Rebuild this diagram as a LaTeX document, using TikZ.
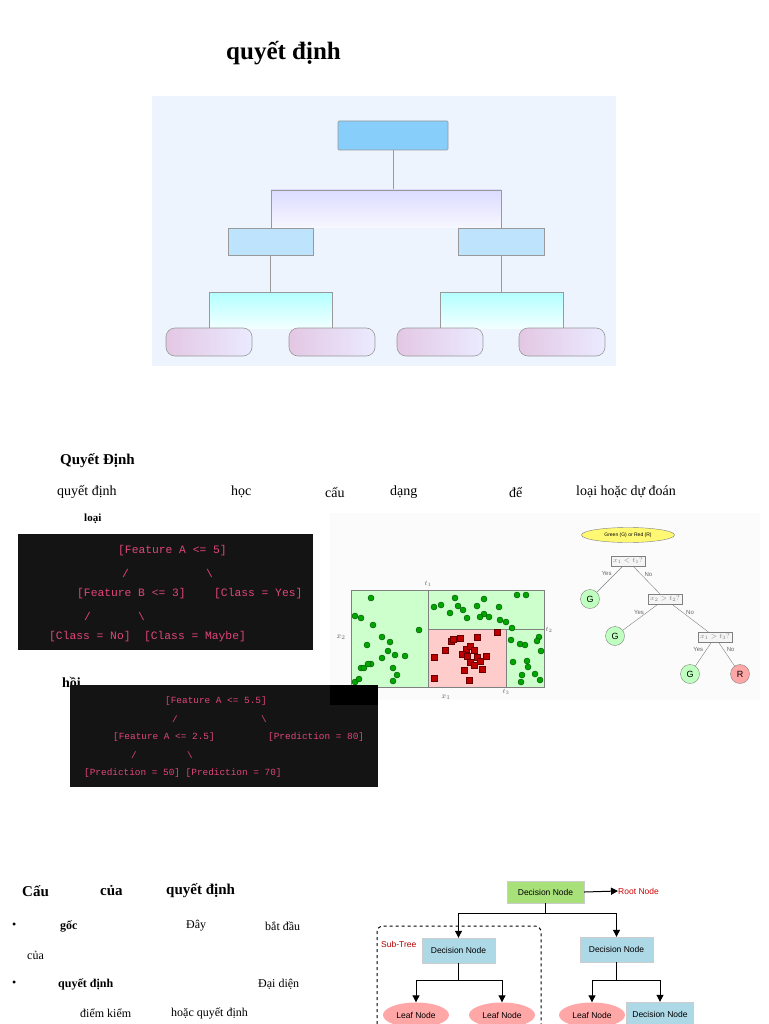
\documentclass[tikz,border=0pt]{standalone}
\usepackage{fontspec}
\setmainfont{Liberation Serif}
\newfontfamily\mono{Liberation Mono}
\newfontfamily\sans{Liberation Sans}
\usetikzlibrary{shapes.geometric,arrows.meta}
\definecolor{codepink}{HTML}{E0457B}
\definecolor{panel}{HTML}{EDF4FD}
\definecolor{lblue}{HTML}{ADD8E6}
\definecolor{rootg}{HTML}{A8E07A}
\definecolor{sky}{HTML}{87CEFA}
\begin{document}
\begin{tikzpicture}[x=1pt,y=-1pt,
 tx/.style={anchor=west,inner sep=0pt,font=\fontsize{14}{16}\selectfont},
 bx/.style={anchor=west,inner sep=0pt,font=\bfseries\fontsize{14}{16}\selectfont},
 code/.style={anchor=west,inner sep=0pt,text=codepink,font=\mono\fontsize{11.3}{12}\selectfont},
 code2/.style={anchor=west,inner sep=0pt,text=codepink,font=\mono\fontsize{9.4}{10}\selectfont},
 dot/.style={circle,fill=green!65!black,draw=green!30!black,inner sep=0pt,minimum size=6pt},
 sq/.style={rectangle,fill=red!75!black,draw=red!40!black,inner sep=0pt,minimum size=5.5pt},
 qbox/.style={draw=gray,fill=gray!8,font=\fontsize{7}{8}\selectfont,text=gray,inner sep=2pt},
 leafc/.style={circle,draw=gray,fill=green!25,minimum size=19pt,inner sep=0pt,font=\sans\fontsize{9}{10}\selectfont},
 yn/.style={font=\sans\fontsize{6}{7}\selectfont,text=gray!80!black},
 dn/.style={draw=gray!40,fill=lblue,minimum width=73pt,minimum height=25pt,font=\sans\fontsize{8.5}{10}\selectfont,inner sep=1pt},
 lf/.style={ellipse,fill=red!35,minimum width=66pt,minimum height=25pt,font=\sans\fontsize{8.5}{10}\selectfont,inner sep=0pt},
 arr/.style={-{Triangle[length=7pt,width=7pt]},line width=1pt}]
\useasboundingbox (0,0) rectangle (768,1024);
\fill[white] (0,0) rectangle (768,1024);
% title
\node[anchor=west,inner sep=0pt,font=\bfseries\fontsize{25}{28}\selectfont] (title) at (226,53) {quyết định};
% top panel
\fill[panel] (152,96) rectangle (616,366);
\tikzset{tb/.style={draw=gray!80,line width=0.6pt}}
\node[tb,fill=sky,minimum width=110pt,minimum height=29pt,rounded corners=1pt] (r) at (393,135.5) {};
\draw[gray!80] (r.south) -- (393,190);
\shade[top color=blue!14,bottom color=blue!3] (271,190) rectangle (501,228);
\draw[gray!80] (271,228) -- (271,190) -- (501,190) -- (501,228);
\node[tb,fill=sky!55,minimum width=85pt,minimum height=27pt] (l2a) at (270.5,241.5) {};
\node[tb,fill=sky!55,minimum width=86pt,minimum height=27pt] (l2b) at (501,241.5) {};
\draw[gray!80] (l2a.south) -- (270.5,292);
\draw[gray!80] (l2b.south) -- (501,292);
\shade[top color=cyan!30,bottom color=cyan!5] (209,292) rectangle (332,328);
\shade[top color=cyan!30,bottom color=cyan!5] (440,292) rectangle (563,328);
\draw[gray!80] (209,328) -- (209,292) -- (332,292) -- (332,328);
\draw[gray!80] (440,328) -- (440,292) -- (563,292) -- (563,328);
\foreach \n/\cx in {la/209,lb/332,lc/440,ld/562}
  \node[tb,left color=violet!22,right color=blue!8,rounded corners=9pt,minimum width=86pt,minimum height=28pt] (\n) at (\cx,342) {};
% middle text
\node[bx,font=\bfseries\fontsize{15}{17}\selectfont] (qd) at (60,461) {Quyết Định};
\node[tx] (t1) at (57,492) {quyết định};
\node[tx] (t2) at (231,492) {học};
\node[tx] (t3) at (325,492) {cấu};
\node[tx] (t4) at (390,492) {dạng};
\node[tx] (t5) at (509,492) {để};
\node[tx] (t6) at (576,492) {loại hoặc dự đoán};
\node[bx,font=\bfseries\fontsize{11}{12}\selectfont] (loai) at (84,519) {loại};
% code box 1
\fill[black!92] (18,534) rectangle (313,650);
\node[code] (c1) at (118,551) {[Feature A <= 5]};
\node[code] (c2) at (122,573) {/};
\node[code] (c3) at (206,573) {\textbackslash};
\node[code] (c4) at (77,594) {[Feature B <= 3]};
\node[code] (c5) at (214,594) {[Class = Yes]};
\node[code] (c6) at (84,616) {/};
\node[code] (c7) at (138,616) {\textbackslash};
\node[code] (c8) at (49,637) {[Class = No]\ \ [Class = Maybe]};
\node[bx] (hoi) at (62,682) {hồi};
% code box 2
\fill[black!92] (70,685) rectangle (378,787);
\node[code2] (d1) at (165,701) {[Feature A <= 5.5]};
\node[code2] (d2) at (172,719) {/};
\node[code2] (d3) at (261,719) {\textbackslash};
\node[code2] (d4) at (113,737) {[Feature A <= 2.5]};
\node[code2] (d5) at (268,737) {[Prediction = 80]};
\node[code2] (d6) at (131,755) {/};
\node[code2] (d7) at (187,755) {\textbackslash};
\node[code2] (d8) at (84,773) {[Prediction = 50] [Prediction = 70]};
% scatter
\fill[gray!3] (330,513) rectangle (760,700);
\fill[green!20] (351,590) rectangle (544,687);
\fill[red!20] (428,629) rectangle (506,687);
\draw[gray,line width=0.8pt] (351,590) rectangle (544,687);
\draw[gray,line width=0.8pt] (428,590) -- (428,687) (428,629) -- (544,629) (506,629) -- (506,687);
\foreach \x/\y in {371/598, 355/616, 361/618, 373/625, 419/630, 367/645, 382/637, 390/642, 382/658, 388/651, 395/655, 371/664, 361/668, 364/668, 368/664, 393/668, 397/675, 355/682, 359/679, 393/681, 405/656,
 434/607, 441/605, 455/598, 484/599, 517/595, 526/595, 450/613, 458/606, 463/610, 477/606, 484/614, 489/617, 499/607, 467/618, 500/620, 480/617, 506/622, 512/628,
 511/640, 520/644, 539/637, 537/641, 525/645, 527/661, 528/667, 541/651, 513/662, 535/674, 540/680, 522/675, 521/682}
  \node[dot] at (\x,\y) {};
\foreach \x/\y in {497/632, 451/641, 453/639, 460/638, 477/637, 445/650, 466/649, 470/646, 434/657, 462/654, 467/656, 474/650, 477/657, 480/661, 486/656, 470/662, 474/665, 482/669, 464/670, 434/678, 469/680}
  \node[sq] at (\x,\y) {};
\node[font=\fontsize{7}{8}\selectfont,text=gray!80!black,inner sep=0pt] (st1) at (428,584) {$t_1$};
\node[font=\fontsize{7}{8}\selectfont,text=gray!80!black,inner sep=0pt] (st2) at (549,630) {$t_2$};
\node[font=\fontsize{7}{8}\selectfont,text=gray!80!black,inner sep=0pt] (st3) at (506,692) {$t_3$};
\node[font=\fontsize{8}{9}\selectfont,text=gray!80!black,inner sep=0pt] (sx1) at (446,697) {$x_1$};
\node[font=\fontsize{8}{9}\selectfont,text=gray!80!black,inner sep=0pt] (sx2) at (341,637) {$x_2$};
\fill[black] (330,685) rectangle (378,705);
% small tree
\node[ellipse,draw=gray,fill=yellow!55,minimum width=93pt,minimum height=15pt,inner sep=0pt,font=\sans\fontsize{5}{6}\selectfont] (gr) at (628,535) {Green (G) or Red (R)};
\node[qbox] (q1) at (628,561) {$x_1 < t_1?$};
\node[leafc] (g1) at (590,599) {G};
\node[qbox] (q2) at (665,599) {$x_2 > t_2?$};
\node[leafc] (g2) at (615,636) {G};
\node[qbox] (q3) at (715,637) {$x_1 > t_3?$};
\node[leafc] (g3) at (690,674) {G};
\node[leafc,fill=red!35] (rr) at (740,674) {R};
\draw[gray] (q1) -- node[yn,left,pos=0.3] {Yes} (g1);
\draw[gray] (q1) -- node[yn,right,pos=0.3] {No} (q2);
\draw[gray] (q2) -- node[yn,left,pos=0.3] {Yes} (g2);
\draw[gray] (q2) -- node[yn,right,pos=0.3] {No} (q3);
\draw[gray] (q3) -- node[yn,left,pos=0.3] {Yes} (g3);
\draw[gray] (q3) -- node[yn,right,pos=0.3] {No} (rr);
% bottom text
\node[bx,font=\bfseries\fontsize{15}{17}\selectfont] (b1) at (22,891) {Cấu};
\node[bx,font=\bfseries\fontsize{15}{17}\selectfont] (b2) at (100,891) {của};
\node[bx,font=\bfseries\fontsize{15}{17}\selectfont] (b3) at (166,891) {quyết định};
\tikzset{sm/.style={anchor=west,inner sep=0pt,font=\fontsize{12}{14}\selectfont}}
\node[sm] (u1) at (12,926) {•};
\node[sm,font=\bfseries\fontsize{12}{14}\selectfont] (u2) at (60,926) {gốc};
\node[sm] (u3) at (186,926) {Đây};
\node[sm] (u4) at (265,926) {bắt đầu};
\node[sm] (u5) at (27,955) {của};
\node[sm] (u6) at (12,984) {•};
\node[sm,font=\bfseries\fontsize{12}{14}\selectfont] (u7) at (58,984) {quyết định};
\node[sm] (u8) at (258,984) {Đại diện};
\node[sm] (u9) at (80,1013) {điểm kiểm};
\node[sm] (u10) at (171,1013) {hoặc quyết định};
% bottom diagram
\node[dn,fill=rootg,minimum width=77pt,minimum height=22pt] (root) at (545.5,892) {Decision Node};
\node[anchor=west,inner sep=0pt,text=red!80!black,font=\sans\fontsize{8.5}{10}\selectfont] (rn) at (618,891) {Root Node};
\draw[arr] (root.east) -- (rn.west);
\node[dn] (dl) at (458.5,950.5) {Decision Node};
\node[dn] (dr) at (616.5,949.5) {Decision Node};
\coordinate (s0) at (545.5,913);
\draw[line width=1pt] (root.south) -- (s0);
\draw[arr] (s0) -| (dl.north);
\draw[arr] (s0) -| (dr.north);
\draw[dashed,line width=1pt,rounded corners=6pt] (377,1030) -- (377,926) -- (541,926) -- (541,1030);
\node[anchor=west,inner sep=0pt,text=red!70!black,font=\sans\fontsize{8.5}{10}\selectfont] (subt) at (381,944) {Sub-Tree};
\node[lf] (lf1) at (416,1015) {Leaf Node};
\node[lf] (lf2) at (502,1015) {Leaf Node};
\node[lf] (lf3) at (592,1015) {Leaf Node};
\node[dn,minimum width=67pt,minimum height=24pt] (dr2) at (660,1014) {Decision Node};
\coordinate (s1) at (458.5,980);
\coordinate (s2) at (616.5,980);
\draw[line width=1pt] (dl.south) -- (s1);
\draw[arr] (s1) -| (lf1.north);
\draw[arr] (s1) -| (lf2.north);
\draw[line width=1pt] (dr.south) -- (s2);
\draw[arr] (s2) -| (lf3.north);
\draw[arr] (s2) -| (dr2.north);
\end{tikzpicture}
\end{document}
